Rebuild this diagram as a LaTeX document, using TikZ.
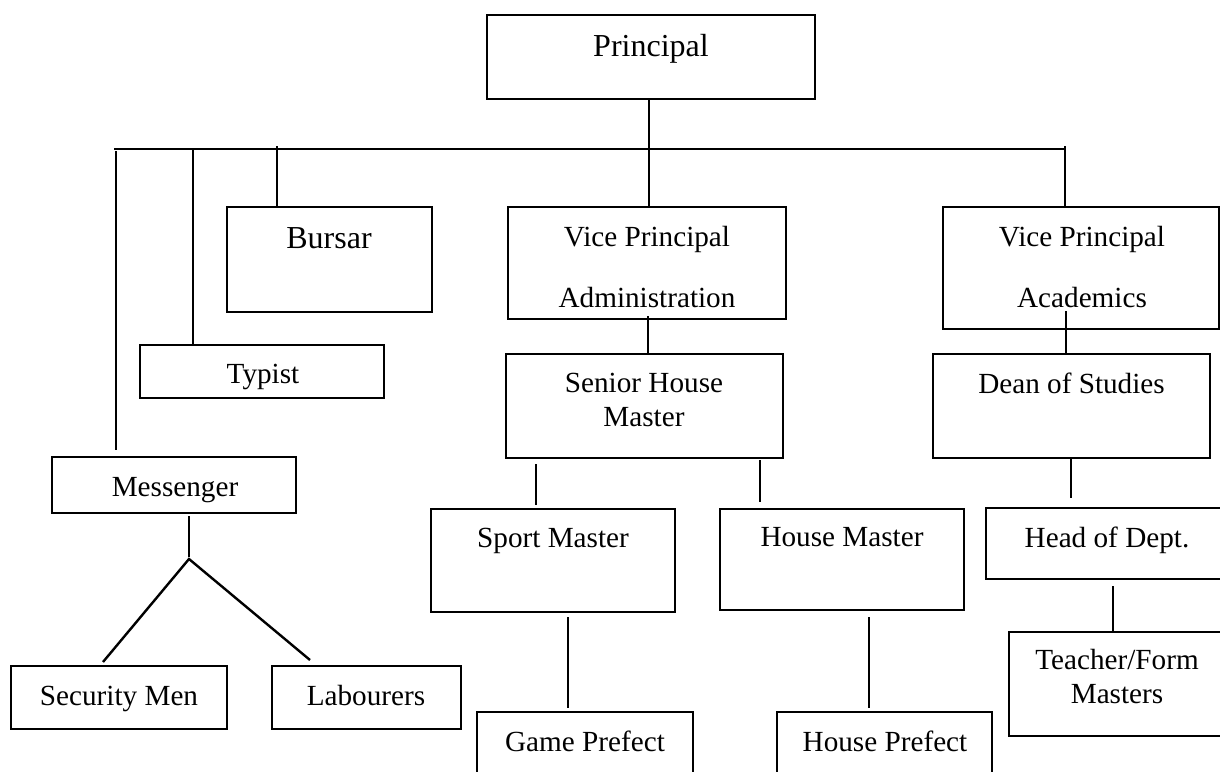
\documentclass[tikz,border=0pt]{standalone}
\usepackage{fontspec}
\setmainfont{Liberation Serif}
\begin{document}
\begin{tikzpicture}[x=1pt,y=-1pt,
  box/.style={draw=black,line width=1.8pt,rectangle,inner sep=0pt},
  conn/.style={draw=black,line width=2.4pt},
  txt/.style={anchor=base,inner sep=0pt,font=\fontsize{29.2}{34}\selectfont},
  bigtxt/.style={anchor=base,inner sep=0pt,font=\fontsize{32}{38}\selectfont}]
\useasboundingbox (0,0) rectangle (1220,771);
\clip (0,0) rectangle (1220,771);
\fill[white] (0,0) rectangle (1220,771);
% boxes
\node[box,minimum width=328,minimum height=84] (principal) at (651,57) {};
\node[box,minimum width=205,minimum height=105] (bursar) at (329.5,259.5) {};
\node[box,minimum width=278,minimum height=112] (vpadmin) at (647,263) {};
\node[box,minimum width=276,minimum height=122] (vpacad) at (1081,268) {};
\node[box,minimum width=244,minimum height=53] (typist) at (262,371.5) {};
\node[box,minimum width=244,minimum height=56] (messenger) at (174,485) {};
\node[box,minimum width=277,minimum height=104] (senior) at (644.5,406) {};
\node[box,minimum width=277,minimum height=104] (dean) at (1071.5,406) {};
\node[box,minimum width=244,minimum height=103] (sport) at (553,560.5) {};
\node[box,minimum width=244,minimum height=101] (housem) at (842,559.5) {};
\node[box,minimum width=244,minimum height=71] (headd) at (1108,543.5) {};
\node[box,minimum width=221,minimum height=104] (teacher) at (1119.5,684) {};
\node[box,minimum width=216,minimum height=68] (gamep) at (585,746) {};
\node[box,minimum width=215,minimum height=68] (housep) at (884.5,746) {};
\node[box,minimum width=216,minimum height=63] (security) at (119,697.5) {};
\node[box,minimum width=189,minimum height=63] (labour) at (366.5,697.5) {};
% texts
\node[bigtxt] (t-principal) at (651,56) {Principal};
\node[bigtxt] (t-bursar) at (329,248) {Bursar};
\node[txt] (t-vpadmin1) at (647,246) {Vice Principal};
\node[txt] (t-vpadmin2) at (647,307) {Administration};
\node[txt] (t-vpacad1) at (1082,246) {Vice Principal};
\node[txt] (t-vpacad2) at (1082,307) {Academics};
\node[txt] (t-typist) at (263,383) {Typist};
\node[txt] (t-messenger) at (175,496) {Messenger};
\node[txt] (t-senior1) at (644,392) {Senior House};
\node[txt] (t-senior2) at (644,426) {Master};
\node[txt] (t-dean) at (1071.5,393) {Dean of Studies};
\node[txt] (t-sport) at (553,547) {Sport Master};
\node[txt] (t-housem) at (842,546) {House Master};
\node[txt] (t-headd) at (1107,547) {Head of Dept.};
\node[txt] (t-teacher1) at (1117,669) {Teacher/Form};
\node[txt] (t-teacher2) at (1117,703) {Masters};
\node[txt] (t-gamep) at (585,751) {Game Prefect};
\node[txt] (t-housep) at (885,751) {House Prefect};
\node[txt] (t-security) at (119,705) {Security Men};
\node[txt] (t-labour) at (366,705) {Labourers};
% coordinates
\coordinate (busL) at (114,149);
\coordinate (busR) at (1066,149);
\coordinate (busP) at (649,149);
\coordinate (dMsgTop) at (116,151);
\coordinate (dMsgEnd) at (116,450);
\coordinate (dTyp) at (193,149);
\coordinate (dBur) at (277,146);
\coordinate (dVpa) at (649,146);
\coordinate (dVpc) at (1065,146);
\coordinate (aS) at (648,316);
\coordinate (cS) at (1066,311);
\coordinate (sL1) at (536,464);
\coordinate (sL2) at (536,505);
\coordinate (sR1) at (760,460);
\coordinate (sR2) at (760,502);
\coordinate (dH1) at (1071,458);
\coordinate (dH2) at (1071,498);
\coordinate (hT) at (1113,586);
\coordinate (sG) at (568,617);
\coordinate (sG2) at (568,708);
\coordinate (hP) at (869,617);
\coordinate (hP2) at (869,708);
\coordinate (mA) at (189,516);
\coordinate (mB) at (189,557);
\coordinate (mFork) at (189,559);
\coordinate (mSec) at (103,662);
\coordinate (mLab) at (310,660);
% connectors
\draw[conn] (principal.south -| busP) -- (busP);
\draw[conn] (busL) -- (busR);
\draw[conn] (dMsgTop) -- (dMsgEnd);
\draw[conn] (dTyp) -- (dTyp |- typist.north);
\draw[conn] (dBur) -- (dBur |- bursar.north);
\draw[conn] (dVpa) -- (dVpa |- vpadmin.north);
\draw[conn] (dVpc) -- (dVpc |- vpacad.north);
\draw[conn] (aS) -- (aS |- senior.north);
\draw[conn] (cS) -- (cS |- dean.north);
\draw[conn] (sL1) -- (sL2);
\draw[conn] (sR1) -- (sR2);
\draw[conn] (dH1) -- (dH2);
\draw[conn] (hT) -- (hT |- teacher.north);
\draw[conn] (sG) -- (sG2);
\draw[conn] (hP) -- (hP2);
\draw[conn] (mA) -- (mB);
\draw[conn] (mSec) -- (mFork) -- (mLab);
\end{tikzpicture}
\end{document}
